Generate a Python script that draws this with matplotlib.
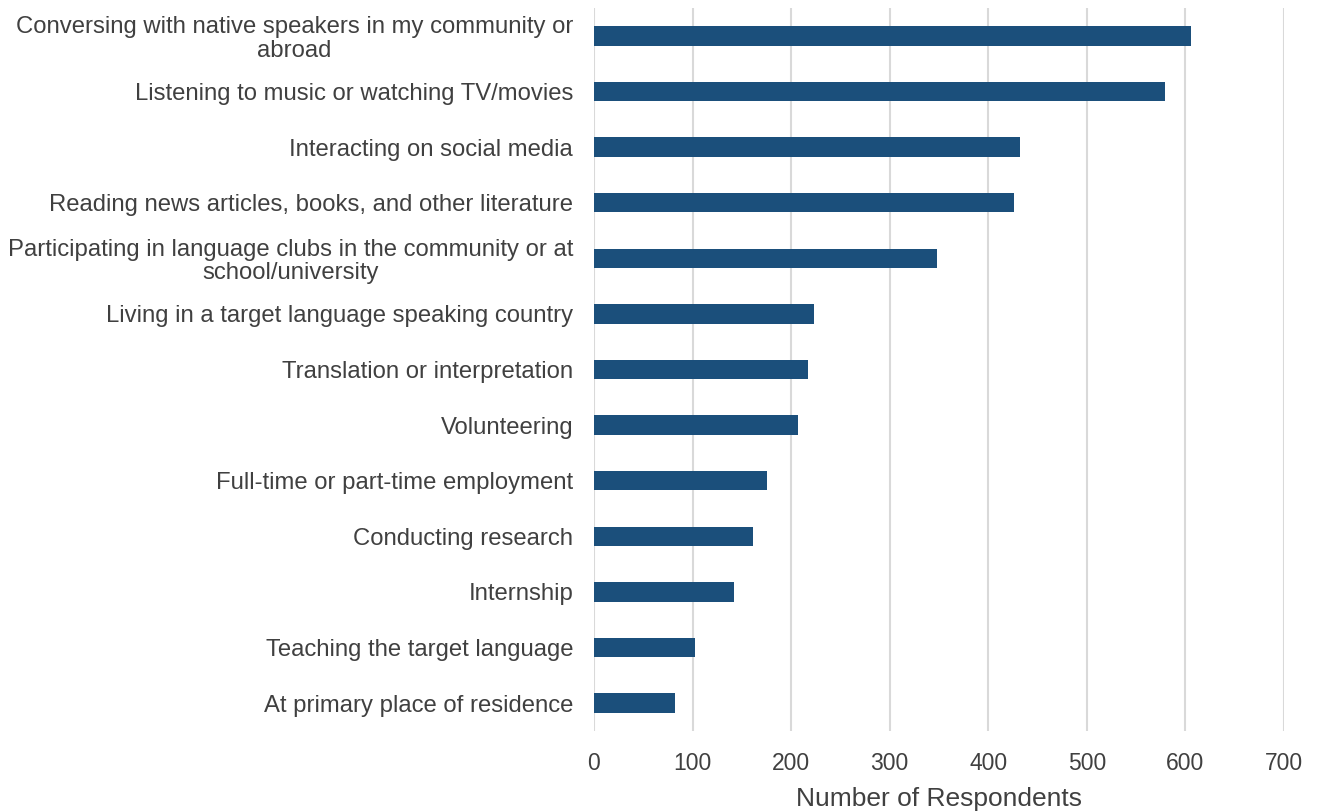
import matplotlib
matplotlib.use("Agg")
import matplotlib.pyplot as plt

categories = [
    "Conversing with native speakers in my community or\nabroad",
    "Listening to music or watching TV/movies",
    "Interacting on social media",
    "Reading news articles, books, and other literature",
    "Participating in language clubs in the community or at\nschool/university",
    "Living in a target language speaking country",
    "Translation or interpretation",
    "Volunteering",
    "Full-time or part-time employment",
    "Conducting research",
    "Internship",
    "Teaching the target language",
    "At primary place of residence",
]
values = [606, 579, 432, 426, 348, 223, 217, 207, 176, 161, 142, 102, 82]
x_ticks = [0, 100, 200, 300, 400, 500, 600, 700]

plt.rcParams['font.family'] = ['Liberation Sans', 'DejaVu Sans']
text_color = '#404040'
bar_color = '#1B4F7B'
grid_color = '#D9D9D9'

fig = plt.figure(figsize=(13.17, 8.11), dpi=100)
ax = fig.add_axes([594/1317, 1-731/811, (1284-594)/1317, (731-8)/811])

pos = list(range(len(categories)))
ax.barh(pos, values, height=0.35, color=bar_color, zorder=3)
ax.set_ylim(len(categories)-0.5, -0.5)
ax.set_xlim(0, 700)
ax.set_yticks(pos)
ax.set_yticklabels(categories, fontsize=17.2, color=text_color, multialignment='center',
                   linespacing=1.08)
ax.set_xticks(x_ticks)
ax.set_xticklabels([str(t) for t in x_ticks], fontsize=16.5, color=text_color)
ax.tick_params(axis='both', length=0)
ax.tick_params(axis='y', pad=15)
ax.tick_params(axis='x', pad=15)
ax.grid(axis='x', color=grid_color, linewidth=1.5, zorder=0)
for s in ax.spines.values():
    s.set_visible(False)
ax.set_xlabel("Number of Respondents", fontsize=19, color=text_color, labelpad=9)

fig.savefig("out.png", dpi=100, facecolor='white')
